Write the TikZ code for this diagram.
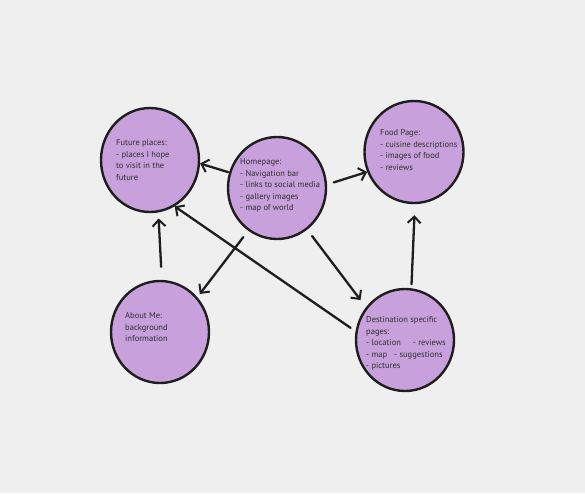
\documentclass[tikz,border=0pt]{standalone}
\usepackage{fontspec}
\setmainfont{PT Sans}
\usetikzlibrary{shapes.geometric,arrows.meta}
\definecolor{bg}{HTML}{EFEFEF}
\definecolor{bubble}{HTML}{C8A0DC}
\definecolor{ink}{HTML}{1E1E1E}
\definecolor{txt}{HTML}{2E2E2E}
\tikzset{
  page/.style={ellipse, draw=ink, line width=2.4pt, fill=bubble, inner sep=0pt},
  notes/.style={anchor=north west, align=left, inner sep=0pt, text=txt,
    font=\fontsize{8.5}{11.5}\selectfont},
  link/.style={draw=ink, line width=2.3pt, line cap=round,
    -{Straight Barb[length=6.5pt,width=13pt,line width=2pt]}}
}
\begin{document}
\begin{tikzpicture}[x=1pt,y=-1pt]
  \fill[bg] (0,0) rectangle (585,493);
  \useasboundingbox (0,0) rectangle (585,493);

  % pages of the site
  \node[page, minimum width=98pt, minimum height=104pt] (future) at (150,160) {};
  \node[page, minimum width=98pt, minimum height=102pt] (home)   at (277,188) {};
  \node[page, minimum width=99pt, minimum height=102pt] (food)   at (414,152) {};
  \node[page, minimum width=98pt, minimum height=102pt] (about)  at (160,332) {};
  \node[page, minimum width=98pt, minimum height=102pt] (dest)   at (405,340) {};

  % descriptions
  \node[notes] (futuretxt) at (116,139.5) {Future places:\\- places I hope\\to visit in the\\future};
  \node[notes] (hometxt) at (240,158.5) {Homepage:\\- Navigation bar\\- links to social media\\- gallery images\\- map of world};
  \node[notes] (foodtxt) at (380,129.5) {Food Page:\\- cuisine descriptions\\- images of food\\- reviews};
  \node[notes] (abouttxt) at (125,312.5) {About Me:\\background\\information};
  \node[notes] (desttxt) at (366,316.5) {Destination specific\\pages:\\- location\hspace{12pt}- reviews\\- map\hspace{7pt}- suggestions\\- pictures};

  % navigation between pages
  \draw[link, shorten <=1pt]                 (home.162)  -- (future.-4);
  \draw[link, shorten <=7pt]                 (home.4)    -- (food.203);
  \draw[link, shorten <=8pt, shorten >=4pt]  (home.236)  -- (about.43);
  \draw[link, shorten <=8pt, shorten >=9pt]  (home.306)  -- (dest.140);
  \draw[link, shorten <=13pt, shorten >=6pt] (about.88)  -- (future.279);
  \draw[link, shorten <=6pt]                 (dest.170)  -- (future.298);
  \draw[link, shorten <=4pt, shorten >=11pt] (dest.83)   -- (food.271);
\end{tikzpicture}
\end{document}
